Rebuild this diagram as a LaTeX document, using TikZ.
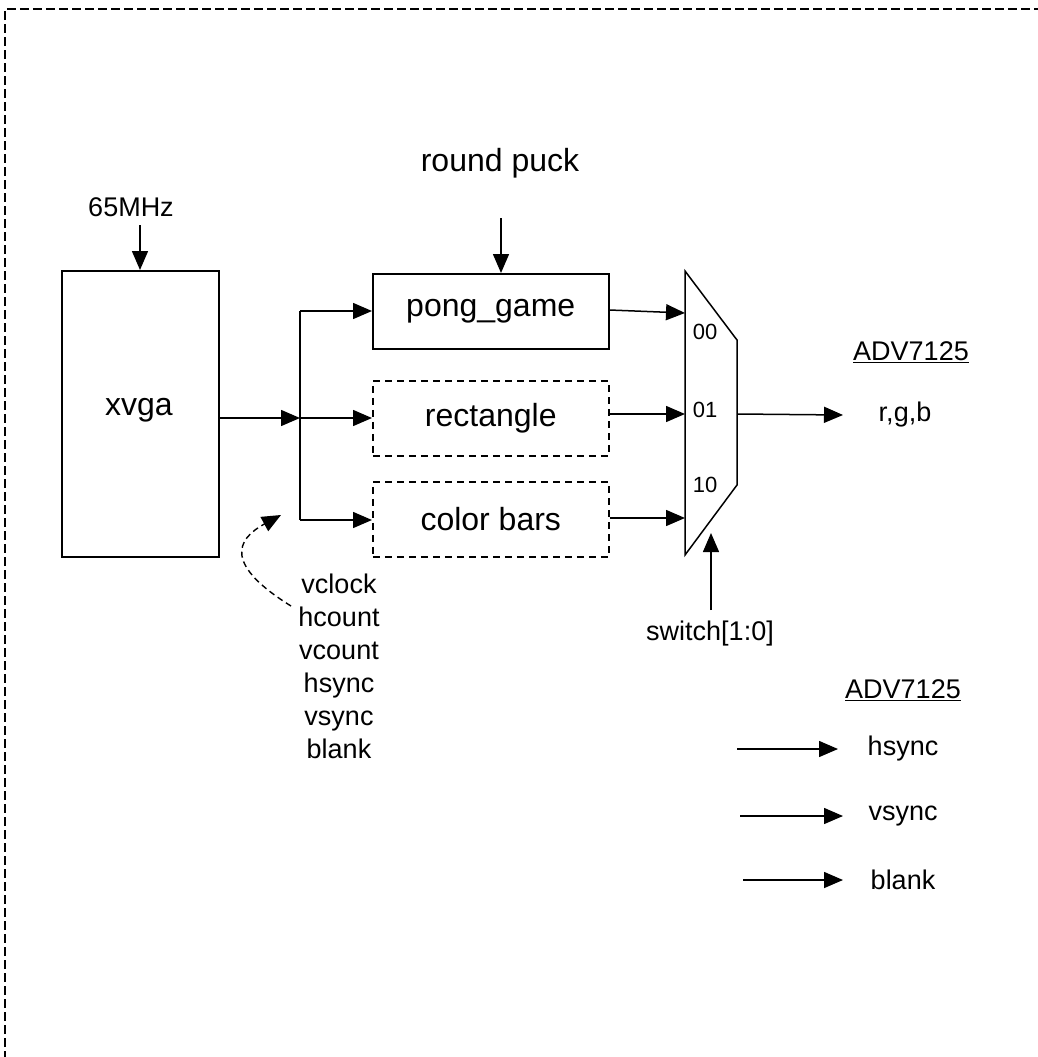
\documentclass[tikz,border=0pt]{standalone}
\usepackage{fontspec}
\setmainfont{Liberation Sans}
\usetikzlibrary{arrows.meta}
\begin{document}
\begin{tikzpicture}[x=1pt,y=-1pt,
  line width=1.5pt,
  tip/.style={-{Triangle[length=19pt,width=16pt]}},
  big/.style={font=\fontsize{32}{37}\selectfont},
  small/.style={font=\fontsize{27}{33}\selectfont},
  tiny/.style={font=\fontsize{22}{26}\selectfont},
  blk/.style={draw, minimum width=236pt, minimum height=75pt, inner sep=0pt, big},
  dblk/.style={blk, dash pattern=on 7pt off 5pt}]
\useasboundingbox (0,0) rectangle (1037,1057);
% border
\draw[line width=1.2pt, dash pattern=on 9pt off 4pt] (5,1060) -- (5,9) -- (1040,9);
% xvga
\node[draw, minimum width=157pt, minimum height=286pt, inner sep=0pt, anchor=north west] (xvga) at (61,270) {};
\node[big] (xvgat) at (139,410) {xvga};
\node[small] (clk) at (131,207) {65MHz};
\coordinate (clktop) at (140,225);
\draw[tip] (clktop) -- (xvga.north -| clktop);
% blocks
\node[blk, anchor=north west] (pong) at (372,273) {pong\_game};
\node[dblk, anchor=north west] (rect) at (372,380) {rectangle};
\node[dblk, anchor=north west] (bars) at (372,481) {color bars};
\node[big] (puck) at (500,163) {round puck};
\coordinate (puckin) at (501,218);
\draw[tip] (puckin) -- (pong.north -| puckin);
% fan out
\coordinate (xo) at (218,418);
\coordinate (br) at (300,418);
\coordinate (bt) at (300,311);
\coordinate (bb) at (300,520);
\draw[tip] (xo) -- (br);
\draw (bt) -- (bb);
\draw[tip] (bt) -- (pong.west |- bt);
\draw[tip] (br) -- (rect.west |- br);
\draw[tip] (bb) -- (bars.west |- bb);
% mux
\coordinate (m1) at (685,271);
\coordinate (m2) at (737,340);
\coordinate (m3) at (737,485);
\coordinate (m4) at (685,555);
\draw (m1) -- (m2) -- (m3) -- (m4) -- cycle;
\node[tiny] (l00) at (705,332) {00};
\node[tiny] (l01) at (705,410) {01};
\node[tiny] (l10) at (705,485) {10};
\coordinate (in0) at (685,313);
\coordinate (in1) at (685,414);
\coordinate (in2) at (685,518);
\draw[tip] (pong.east |- 0,310) -- (in0);
\draw[tip] (rect.east |- in1) -- (in1);
\draw[tip] (bars.east |- in2) -- (in2);
\coordinate (mout) at (737,414);
\coordinate (rgbin) at (843,415);
\draw[tip] (mout) -- (rgbin);
\node[small] (rgb) at (905,415) {r,g,b};
\node[small] (adv1) at (911,352) {\underline{ADV7125}};
\node[small] (sw) at (710,634) {switch[1:0]};
\coordinate (swtop) at (711,533);
\coordinate (swbot) at (711,610);
\draw[tip] (swbot) -- (swtop);
% signals
\node[small, align=center, inner sep=0pt] (sigs) at (339,666) {vclock\\hcount\\vcount\\hsync\\vsync\\blank};
\coordinate (dstart) at (291,606);
\coordinate (dtip) at (281,515);
\draw[line width=1.4pt, dash pattern=on 6pt off 4pt, tip] (dstart) .. controls (225,565) and (235,540) .. (dtip);
% second ADV
\node[small] (adv2) at (903,690) {\underline{ADV7125}};
\node[small] (hs) at (903,749) {hsync};
\node[small] (vs) at (903,816) {vsync};
\node[small] (bl) at (903,880) {blank};
\coordinate (hs0) at (737,749);
\coordinate (vs0) at (740,816);
\coordinate (bl0) at (743,880);
\draw[tip] (hs0) -- (838,749);
\draw[tip] (vs0) -- (843,816);
\draw[tip] (bl0) -- (843,880);
\end{tikzpicture}
\end{document}
